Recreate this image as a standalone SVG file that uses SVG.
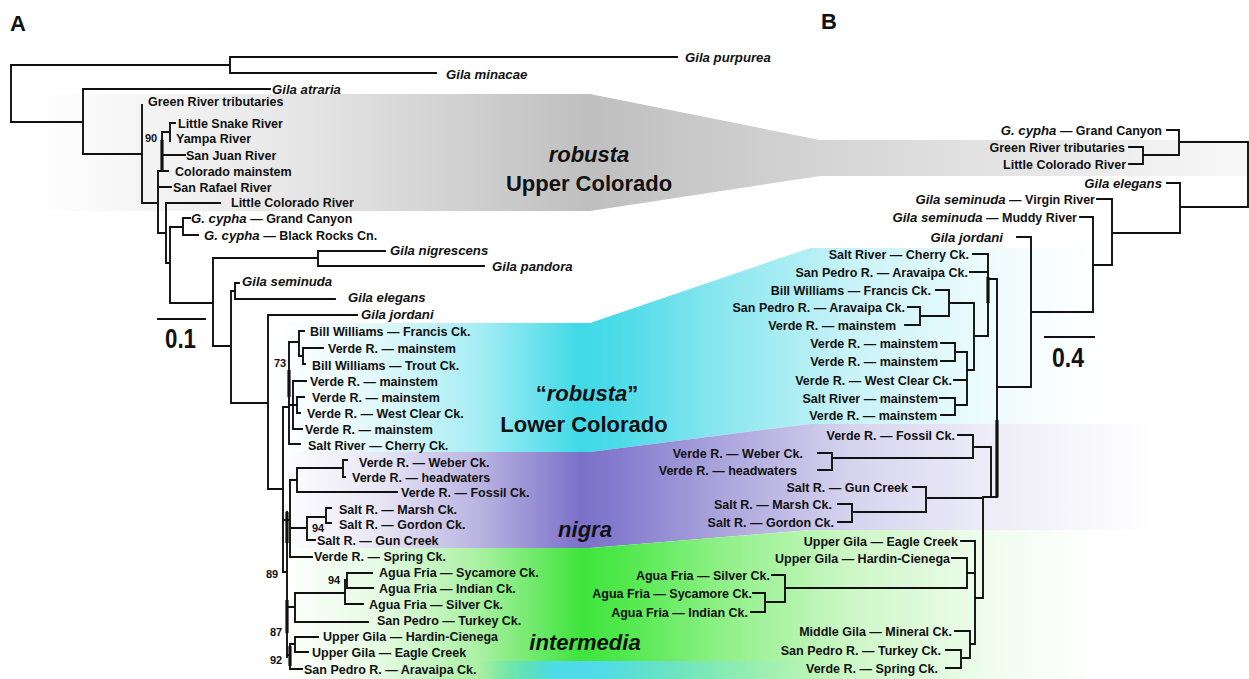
<svg xmlns="http://www.w3.org/2000/svg" width="1249" height="679" viewBox="0 0 1249 679">
<style>
.t{font-family:"Liberation Sans",Arial,Helvetica,sans-serif;font-size:12.5px;font-weight:bold;fill:#111}
.i{font-style:italic;font-size:13.2px}
.e{text-anchor:end}
.bs{font-size:11px}
.big{font-size:22px;text-anchor:middle}
.big.i,.big .i{font-size:22px}
.pl{font-size:22px}
.sc{font-size:28px}
.ln{fill:none;stroke:#111;stroke-width:1.9;stroke-linecap:square}
.thk{fill:none;stroke:#111;stroke-width:3.2}
</style>
<defs>
<linearGradient id="gGray" gradientUnits="userSpaceOnUse" x1="45" y1="0" x2="1249" y2="0">
<stop offset="0" stop-color="#fefefe"/><stop offset="0.212" stop-color="#e6e6e6"/><stop offset="0.453" stop-color="#bfbfbf"/><stop offset="0.644" stop-color="#d4d4d4"/><stop offset="0.793" stop-color="#e4e4e4"/><stop offset="1" stop-color="#f8f8f8"/>
</linearGradient>
<linearGradient id="gCyan" gradientUnits="userSpaceOnUse" x1="280" y1="0" x2="1249" y2="0">
<stop offset="0" stop-color="#ffffff"/><stop offset="0.103" stop-color="#e0f8fb"/><stop offset="0.206" stop-color="#a5edf4"/><stop offset="0.31" stop-color="#3fd9e7"/><stop offset="0.35" stop-color="#4ddbe8"/><stop offset="0.454" stop-color="#8ae6ef"/><stop offset="0.588" stop-color="#c8f3f8"/><stop offset="0.743" stop-color="#f0fcfd"/><stop offset="0.846" stop-color="#ffffff"/>
</linearGradient>
<linearGradient id="gPurple" gradientUnits="userSpaceOnUse" x1="280" y1="0" x2="1249" y2="0">
<stop offset="0" stop-color="#ffffff"/><stop offset="0.103" stop-color="#e8e6f5"/><stop offset="0.206" stop-color="#b9b3e1"/><stop offset="0.31" stop-color="#7b71c9"/><stop offset="0.35" stop-color="#857cce"/><stop offset="0.454" stop-color="#aaa4dc"/><stop offset="0.588" stop-color="#d6d3ee"/><stop offset="0.743" stop-color="#efeef8"/><stop offset="0.9" stop-color="#ffffff"/>
</linearGradient>
<linearGradient id="gGreen" gradientUnits="userSpaceOnUse" x1="280" y1="0" x2="1249" y2="0">
<stop offset="0" stop-color="#ffffff"/><stop offset="0.103" stop-color="#e5fbe2"/><stop offset="0.206" stop-color="#a9f1a2"/><stop offset="0.31" stop-color="#3fe43c"/><stop offset="0.35" stop-color="#4ee84a"/><stop offset="0.454" stop-color="#8ef086"/><stop offset="0.588" stop-color="#cdf7c6"/><stop offset="0.743" stop-color="#f2fdf0"/><stop offset="0.846" stop-color="#ffffff"/>
</linearGradient>
<linearGradient id="gStrip" gradientUnits="userSpaceOnUse" x1="480" y1="0" x2="820" y2="0">
<stop offset="0" stop-color="#4fdbe8" stop-opacity="0"/><stop offset="0.22" stop-color="#4fdbe8" stop-opacity="1"/><stop offset="0.36" stop-color="#52dbe8" stop-opacity="1"/><stop offset="1" stop-color="#9fe9f2" stop-opacity="0"/>
</linearGradient>
</defs>
<rect width="1249" height="679" fill="#ffffff"/>
<g id="bands">
<polygon points="45,94 590,94 820,140 1249,140 1249,176 820,176 590,211 45,211" fill="url(#gGray)"/>
<polygon points="280,323 590,323 810,248 1249,248 1249,424 810,424 590,452 280,452" fill="url(#gCyan)"/>
<polygon points="280,452 590,452 810,424 1249,424 1249,530 810,530 590,548 280,548" fill="url(#gPurple)"/>
<polygon points="280,548 590,548 810,530 1249,530 1249,679 280,679" fill="url(#gGreen)"/>
<polygon points="480,661 820,661 820,679 480,679" fill="url(#gStrip)"/>
</g>
<g id="panel-labels">
<text class="t pl" x="10" y="31">A</text>
<text class="t pl" x="821" y="29">B</text>
</g>
<g id="group-labels">
<g id="lbl-robusta-upper"><text class="t big i" x="589" y="162">robusta</text><text class="t big" x="589" y="191">Upper Colorado</text></g>
<g id="lbl-robusta-lower"><text class="t big" x="587" y="401">“<tspan class="i">robusta</tspan>”</text><text class="t big" x="584" y="432">Lower Colorado</text></g>
<g id="lbl-nigra"><text class="t big i" x="585" y="537">nigra</text></g>
<g id="lbl-intermedia"><text class="t big i" x="585" y="650">intermedia</text></g>
</g>
<g id="connectors">
<path class="ln" d="M11,65V122M11,65H230M230,57V73M230,57H677M230,73H436M11,122H83M83,89V154M83,89H270M83,154H142M142,105V203M142,203H158M158,171V233M158,171H168M158,187H171M162,132V171M162,155H185M162,132H170M170,123V141M170,123H175M158,233H166M166,203V263M166,203H220M166,263H170M170,227V303M170,227H183M183,218V235M183,218H190M183,235H198M170,303H213M213,258V346M213,258H318M318,251V266M318,251H385M318,266H484M213,346H231M231,291V403M231,291H235M235,283V299M235,283H239M235,299H335M231,403H268M268,315V489M268,315H357M268,489H283M283,407V572M283,407H289"/>
<path class="ln" d="M289,342V444M289,342H299M299,331V356M299,331H304M299,356H303M303,348V364M303,348H323M303,364H305M293,381V429M293,381H306M289,405H297M297,397V413M297,397H304M297,413H300M293,429H302M289,444H300"/>
<path class="ln" d="M283,520H290M290,480V557M290,480H297M297,468V492M297,468H343M343,460V477M343,460H347M343,477H345M297,492H397M290,528H307M307,517V540M307,517H326M326,508V523M326,508H331M326,523H331M307,540H315M290,557H312"/>
<path class="ln" d="M283,572H287M287,512V657M287,607H295M295,593V622M295,593H345M345,580V604M345,580H347M347,573V588M347,573H372M347,588H373M345,604H363M295,622H368M287,655H290M290,644V669M290,644H295M295,637V652M295,637H318M295,652H308M290,669H302"/>
<path class="thk" d="M162,140V170M289,370V397M287,512V543M287,600V633M290,646V666"/>
<path class="ln" d="M158,319H205M1045,337H1094"/>
<path class="ln" d="M1248,142V207M1179,142H1248M1180,207H1248M1179,130V155M1167,130H1179M1143,155H1179M1143,147V164M1129,147H1143M1129,164H1143M1180,183V233M1167,183H1180M1112,233H1180M1112,199V265M1097,199H1112M1093,265H1112M1093,217V312M1080,217H1093M1031,312H1093M1031,237V387M1017,237H1031M997,387H1031"/>
<path class="ln" d="M997,279V497M988,279H997M983,497H997M988,254V336M973,254H988M970,272H988M974,336H988M974,303V370M949,303H974M967,370H974M949,290V316M936,290H949M920,316H949M920,307V325M908,307H920M905,325H920M967,352V405M955,352H967M954,380H967M955,405H967M955,343V361M941,343H955M941,361H955M955,398V415M940,398H955M941,415H955"/>
<path class="ln" d="M991,447V497M973,447H991M973,435V458M958,435H973M832,458H973M832,453V470M818,453H832M818,470H832M983,497V598M926,498H983M975,598H983M926,487V512M913,487H926M852,512H926M852,504V522M838,504H852M838,522H852M975,541V644M961,541H975M967,573H975M970,644H975M967,558V588M952,558H967M785,588H967M785,575V602M772,575H785M765,602H785M765,593V612M753,593H765M751,612H765M970,631V658M955,631H970M961,658H970M961,650V668M946,650H961M946,668H961"/>
<path class="thk" d="M988,277V303M997,420V497"/>
</g>
<g id="scale-bars">
<text class="t sc" x="165" y="348" textLength="31" lengthAdjust="spacingAndGlyphs">0.1</text>
<text class="t sc" x="1052" y="367" textLength="32" lengthAdjust="spacingAndGlyphs">0.4</text>
</g>
<g id="support">
<text class="t bs" x="145" y="141.5">90</text>
<text class="t bs" x="274" y="367">73</text>
<text class="t bs" x="312" y="532">94</text>
<text class="t bs" x="266" y="578">89</text>
<text class="t bs" x="328" y="584">94</text>
<text class="t bs" x="270" y="636">87</text>
<text class="t bs" x="270" y="664">92</text>
</g>
<g id="tree-a-leaves">
<g id="a-purpurea"><text class="t i" x="685" y="62">Gila purpurea</text></g>
<g id="a-minacae"><text class="t i" x="446" y="78.5">Gila minacae</text></g>
<g id="a-atraria"><text class="t i" x="272" y="93.5">Gila atraria</text></g>
<g id="a-green"><text class="t" x="148" y="105.5">Green River tributaries</text></g>
<g id="a-littlesnake"><text class="t" x="178" y="127.5">Little Snake River</text></g>
<g id="a-yampa"><text class="t" x="176" y="142.5">Yampa River</text></g>
<g id="a-sanjuan"><text class="t" x="186" y="159.5">San Juan River</text></g>
<g id="a-colorado"><text class="t" x="175" y="175.5">Colorado mainstem</text></g>
<g id="a-sanrafael"><text class="t" x="173" y="191.5">San Rafael River</text></g>
<g id="a-littlecolorado"><text class="t" x="231" y="206.5">Little Colorado River</text></g>
<g id="a-cypha-gc"><text class="t" x="191" y="222.5"><tspan class="i">G. cypha</tspan> — Grand Canyon</text></g>
<g id="a-cypha-br"><text class="t" x="204" y="239.5"><tspan class="i">G. cypha</tspan> — Black Rocks Cn.</text></g>
<g id="a-nigrescens"><text class="t i" x="390" y="255">Gila nigrescens</text></g>
<g id="a-pandora"><text class="t i" x="492" y="270.5">Gila pandora</text></g>
<g id="a-seminuda"><text class="t i" x="242" y="285.5">Gila seminuda</text></g>
<g id="a-elegans"><text class="t i" x="348" y="302">Gila elegans</text></g>
<g id="a-jordani"><text class="t i" x="361" y="318.5">Gila jordani</text></g>
<g id="a-bw-francis"><text class="t" x="310" y="335.5">Bill Williams — Francis Ck.</text></g>
<g id="a-verde-1"><text class="t" x="328" y="352.5">Verde R. — mainstem</text></g>
<g id="a-bw-trout"><text class="t" x="312" y="369.5">Bill Williams — Trout Ck.</text></g>
<g id="a-verde-2"><text class="t" x="310" y="385.5">Verde R. — mainstem</text></g>
<g id="a-verde-3"><text class="t" x="312" y="401.5">Verde R. — mainstem</text></g>
<g id="a-westclear"><text class="t" x="307" y="417.5">Verde R. — West Clear Ck.</text></g>
<g id="a-verde-4"><text class="t" x="305" y="433.5">Verde R. — mainstem</text></g>
<g id="a-cherry"><text class="t" x="308" y="449.5">Salt River — Cherry Ck.</text></g>
<g id="a-weber"><text class="t" x="359" y="466.5">Verde R. — Weber Ck.</text></g>
<g id="a-headwaters"><text class="t" x="352" y="481.5">Verde R. — headwaters</text></g>
<g id="a-fossil"><text class="t" x="401" y="496.5">Verde R. — Fossil Ck.</text></g>
<g id="a-marsh"><text class="t" x="339" y="513.5">Salt R. — Marsh Ck.</text></g>
<g id="a-gordon"><text class="t" x="339" y="528.5">Salt R. — Gordon Ck.</text></g>
<g id="a-gun"><text class="t" x="317" y="544.5">Salt R. — Gun Creek</text></g>
<g id="a-spring"><text class="t" x="314" y="561">Verde R. — Spring Ck.</text></g>
<g id="a-sycamore"><text class="t" x="379" y="576.5">Agua Fria — Sycamore Ck.</text></g>
<g id="a-indian"><text class="t" x="379" y="592.5">Agua Fria — Indian Ck.</text></g>
<g id="a-silver"><text class="t" x="369" y="608.5">Agua Fria — Silver Ck.</text></g>
<g id="a-turkey"><text class="t" x="377" y="624.5">San Pedro — Turkey Ck.</text></g>
<g id="a-hardin"><text class="t" x="323" y="640.5">Upper Gila — Hardin-Cienega</text></g>
<g id="a-eagle"><text class="t" x="312" y="656.5">Upper Gila — Eagle Creek</text></g>
<g id="a-aravaipa"><text class="t" x="304" y="674">San Pedro R. — Aravaipa Ck.</text></g>
</g>
<g id="tree-b-leaves">
<g id="b-cypha"><text class="t e" x="1162" y="134.5"><tspan class="i">G. cypha</tspan> — Grand Canyon</text></g>
<g id="b-green"><text class="t e" x="1125" y="151.5">Green River tributaries</text></g>
<g id="b-littlecolorado"><text class="t e" x="1126" y="168.5">Little Colorado River</text></g>
<g id="b-elegans"><text class="t e i" x="1162" y="187.5">Gila elegans</text></g>
<g id="b-seminuda-virgin"><text class="t e" x="1095" y="203.5"><tspan class="i">Gila seminuda</tspan> — Virgin River</text></g>
<g id="b-seminuda-muddy"><text class="t e" x="1077" y="221.5"><tspan class="i">Gila seminuda</tspan> — Muddy River</text></g>
<g id="b-jordani"><text class="t e i" x="1003" y="241.5">Gila jordani</text></g>
<g id="b-cherry"><text class="t e" x="969" y="258.5">Salt River — Cherry Ck.</text></g>
<g id="b-aravaipa-1"><text class="t e" x="968" y="276.5">San Pedro R. — Aravaipa Ck.</text></g>
<g id="b-francis"><text class="t e" x="931" y="294.5">Bill Williams — Francis Ck.</text></g>
<g id="b-aravaipa-2"><text class="t e" x="905" y="311.5">San Pedro R. — Aravaipa Ck.</text></g>
<g id="b-verde-1"><text class="t e" x="896" y="329.5">Verde R. — mainstem</text></g>
<g id="b-verde-2"><text class="t e" x="938" y="347.5">Verde R. — mainstem</text></g>
<g id="b-verde-3"><text class="t e" x="938" y="365.5">Verde R. — mainstem</text></g>
<g id="b-westclear"><text class="t e" x="952" y="384.5">Verde R. — West Clear Ck.</text></g>
<g id="b-salt-main"><text class="t e" x="938" y="402.5">Salt River — mainstem</text></g>
<g id="b-verde-4"><text class="t e" x="937" y="419.5">Verde R. — mainstem</text></g>
<g id="b-fossil"><text class="t e" x="955" y="439.5">Verde R. — Fossil Ck.</text></g>
<g id="b-weber"><text class="t e" x="803" y="457.5">Verde R. — Weber Ck.</text></g>
<g id="b-headwaters"><text class="t e" x="797" y="474.5">Verde R. — headwaters</text></g>
<g id="b-gun"><text class="t e" x="908" y="491.5">Salt R. — Gun Creek</text></g>
<g id="b-marsh"><text class="t e" x="832" y="508.5">Salt R. — Marsh Ck.</text></g>
<g id="b-gordon"><text class="t e" x="834" y="526.5">Salt R. — Gordon Ck.</text></g>
<g id="b-eagle"><text class="t e" x="958" y="545.5">Upper Gila — Eagle Creek</text></g>
<g id="b-hardin"><text class="t e" x="950" y="562.5">Upper Gila — Hardin-Cienega</text></g>
<g id="b-silver"><text class="t e" x="770" y="579.5">Agua Fria — Silver Ck.</text></g>
<g id="b-sycamore"><text class="t e" x="752" y="597.5">Agua Fria — Sycamore Ck.</text></g>
<g id="b-indian"><text class="t e" x="748" y="616.5">Agua Fria — Indian Ck.</text></g>
<g id="b-mineral"><text class="t e" x="952" y="635.5">Middle Gila — Mineral Ck.</text></g>
<g id="b-turkey"><text class="t e" x="941" y="654.5">San Pedro R. — Turkey Ck.</text></g>
<g id="b-spring"><text class="t e" x="938" y="672.5">Verde R. — Spring Ck.</text></g>
</g>
</svg>
